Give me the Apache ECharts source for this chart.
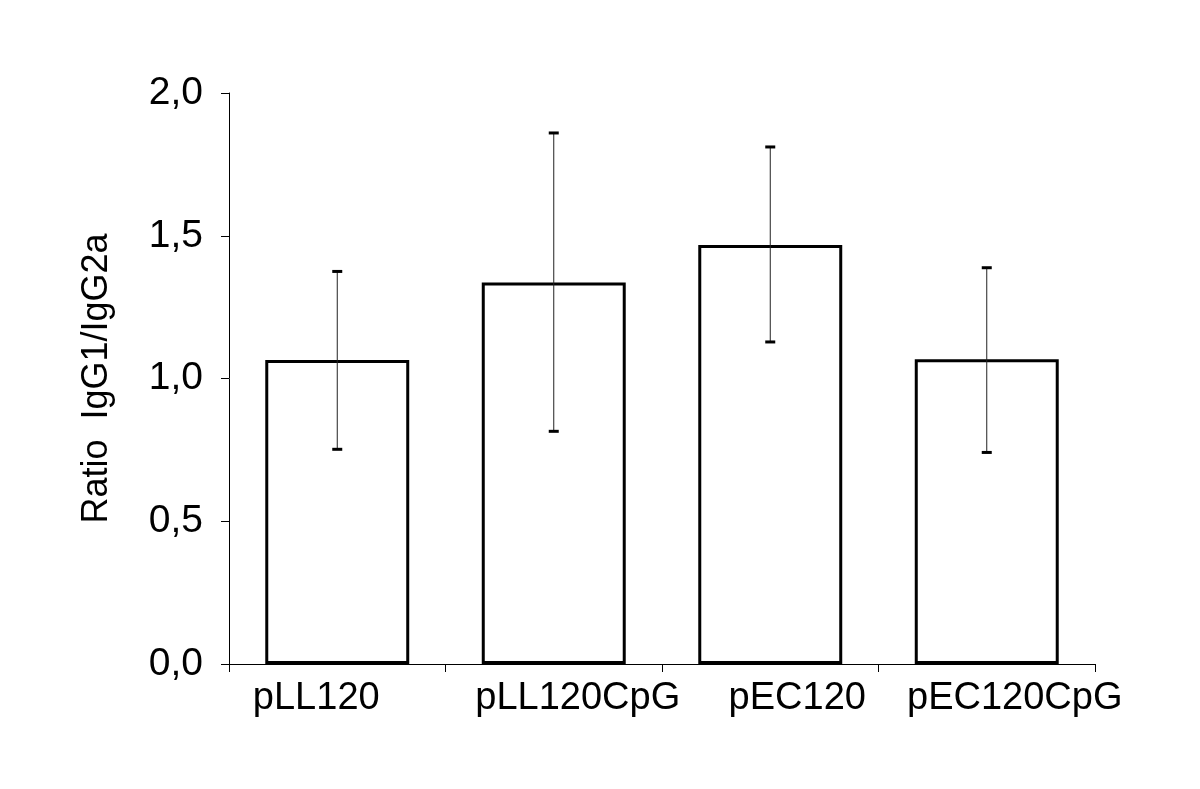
<!DOCTYPE html>
<html>
<head>
<meta charset="utf-8">
<script src="https://cdn.jsdelivr.net/npm/echarts@6/dist/echarts.min.js"></script>
<style>
html,body{margin:0;padding:0;background:#fff;}
#chart{width:1200px;height:789px;}
</style>
</head>
<body>
<div id="chart"></div>
<script>
// Data
const categories = ['pLL120', 'pLL120CpG', 'pEC120', 'pEC120CpG'];
const ratioValues = [1.065, 1.336, 1.468, 1.067];
const errorUpper = [1.375, 1.860, 1.811, 1.388];
const errorLower = [0.752, 0.815, 1.128, 0.741];
const yTicks = [0, 0.5, 1.0, 1.5, 2.0];

// Styling: horizontal label shifts (px) to match reference placement
const labelShift = [-21, 24, 27, 28];

const FONT = "'Liberation Sans', Arial, Helvetica, sans-serif";

const chart = echarts.init(document.getElementById('chart'), null, {renderer: 'canvas'});

const xData = categories.map((c, i) => {
  const s = labelShift[i];
  return {
    value: c,
    textStyle: { padding: s >= 0 ? [0, 0, 0, 2 * s] : [0, -2 * s, 0, 0] }
  };
});

const errData = categories.map((c, i) => [i, errorLower[i], errorUpper[i]]);

const option = {
  backgroundColor: '#ffffff',
  animation: false,
  grid: { left: 229, right: 105, top: 93, bottom: 125, containLabel: false },
  xAxis: {
    type: 'category',
    data: xData,
    boundaryGap: true,
    axisLine: { show: true, lineStyle: { color: '#000', width: 1 } },
    axisTick: { show: true, alignWithLabel: false, length: 8, lineStyle: { color: '#000', width: 1 } },
    axisLabel: { color: '#000', fontSize: 38, fontFamily: FONT, margin: 16, interval: 0 },
    splitLine: { show: false }
  },
  yAxis: {
    type: 'value',
    min: yTicks[0],
    max: yTicks[yTicks.length - 1],
    interval: 0.5,
    name: 'Ratio  IgG1/IgG2a',
    nameLocation: 'middle',
    nameGap: 114,
    nameRotate: 90,
    nameTextStyle: { color: '#000', fontSize: 36, fontFamily: FONT },
    axisLine: { show: true, lineStyle: { color: '#000', width: 1 } },
    axisTick: { show: true, length: 8, lineStyle: { color: '#000', width: 1 } },
    axisLabel: {
      color: '#000', fontSize: 39, fontFamily: FONT, margin: 26,
      formatter: v => v.toFixed(1).replace('.', ',')
    },
    splitLine: { show: false }
  },
  series: [
    {
      type: 'bar',
      data: ratioValues,
      barWidth: '66.5%',
      itemStyle: { color: '#ffffff', borderColor: '#000', borderWidth: 3 },
      z: 2
    },
    {
      type: 'custom',
      data: errData,
      z: 5,
      renderItem: function (params, api) {
        const idx = api.value(0);
        const lo = api.coord([idx, api.value(1)]);
        const hi = api.coord([idx, api.value(2)]);
        const capHalf = 5;
        return {
          type: 'group',
          children: [
            { type: 'line', shape: { x1: hi[0], y1: hi[1], x2: lo[0], y2: lo[1] },
              style: { stroke: '#222', lineWidth: 1 } },
            { type: 'line', shape: { x1: hi[0] - capHalf, y1: hi[1], x2: hi[0] + capHalf, y2: hi[1] },
              style: { stroke: '#000', lineWidth: 3 } },
            { type: 'line', shape: { x1: lo[0] - capHalf, y1: lo[1], x2: lo[0] + capHalf, y2: lo[1] },
              style: { stroke: '#000', lineWidth: 3 } }
          ]
        };
      }
    }
  ]
};

chart.setOption(option);
</script>
</body>
</html>
